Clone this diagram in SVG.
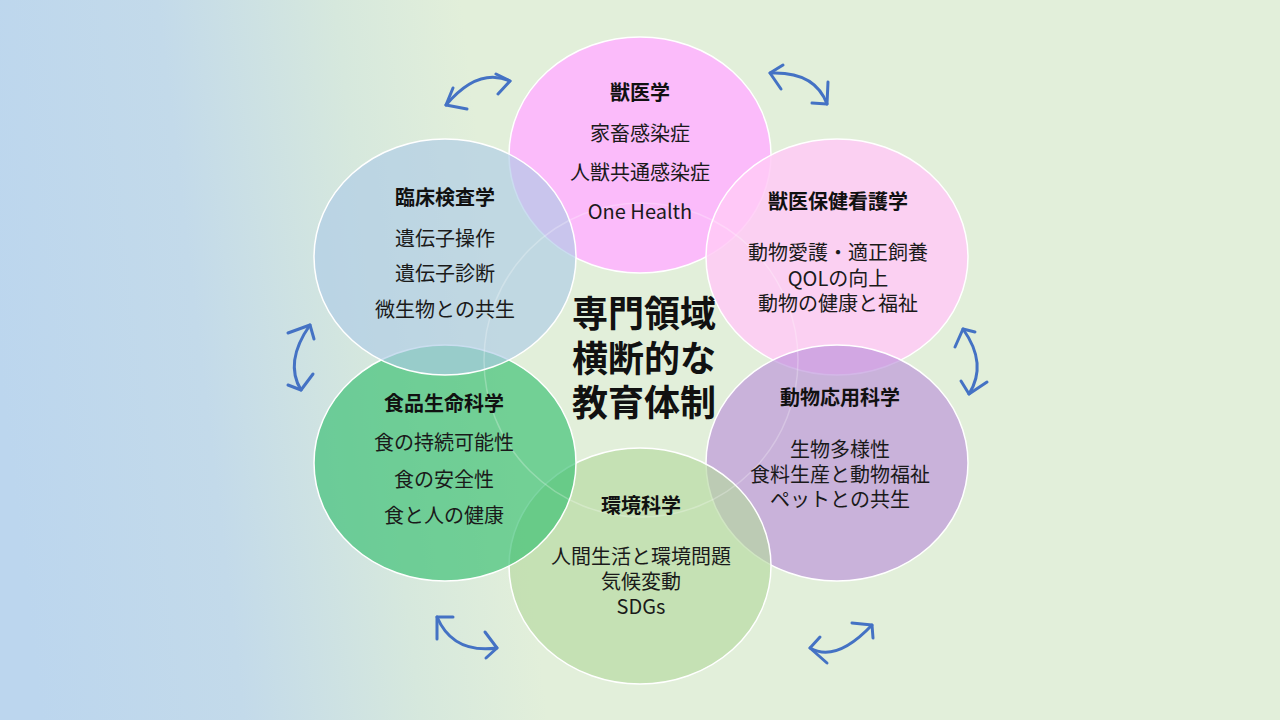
<svg xmlns="http://www.w3.org/2000/svg" width="1280" height="720" viewBox="0 0 1280 720">
<defs>
<linearGradient id="bg" gradientUnits="userSpaceOnUse" x1="0" y1="380" x2="500" y2="320">
<stop offset="0" stop-color="#BCD6EE"/>
<stop offset="0.4" stop-color="#C3DAEA"/>
<stop offset="0.75" stop-color="#D6E8DD"/>
<stop offset="1" stop-color="#E2EFDA"/>
</linearGradient>
<style>
.c{stroke:#FFFFFF;stroke-width:1.5;fill-opacity:0.65}
.p{fill-opacity:0.85}
.t{font-family:"Noto Sans CJK JP","Noto Sans",sans-serif;font-size:20px;font-weight:700;fill:#111;text-anchor:middle}
.b{font-family:"Noto Sans CJK JP","Noto Sans",sans-serif;font-size:20px;fill:#1a1a1a;text-anchor:middle}
.m{font-family:"Noto Sans CJK JP","Noto Sans",sans-serif;font-size:36px;font-weight:700;fill:#111;text-anchor:middle}
.a{fill:none;stroke:#4472C4;stroke-width:3;stroke-linecap:round;stroke-linejoin:round}
</style>
</defs>
<rect x="0" y="0" width="1280" height="720" fill="url(#bg)"/>

<g id="node-juui">
<ellipse class="c p" cx="640" cy="155" rx="131" ry="118" fill="#FFB2FF"/>
</g>
<g id="node-hoken">
<ellipse class="c p" cx="837" cy="257" rx="131" ry="118" fill="#FFCAF6"/>
</g>
<g id="node-ouyou">
<ellipse class="c" cx="837" cy="463" rx="131" ry="118" fill="#BB91DA"/>
</g>
<g id="node-kankyo">
<ellipse class="c" cx="640" cy="566" rx="131" ry="118" fill="#B6D8A0"/>
</g>
<g id="node-shokuhin">
<ellipse class="c" cx="445" cy="463" rx="131" ry="118" fill="#36BF70"/>
</g>
<g id="node-rinsho">
<ellipse class="c" cx="445" cy="257" rx="131" ry="118" fill="#AECBE6"/>
</g>
<g id="node-center">
<circle cx="641" cy="360" r="157" fill="none" stroke="#FFFFFF" stroke-opacity="0.25" stroke-width="1.5"/>
<text class="m" x="644" y="327">専門領域</text>
<text class="m" x="644" y="372">横断的な</text>
<text class="m" x="644" y="416">教育体制</text>
</g>

<g id="labels">
<text class="t" x="640" y="100">獣医学</text>
<text class="b" x="640" y="141">家畜感染症</text>
<text class="b" x="640" y="180">人獣共通感染症</text>
<text class="b" x="640" y="219">One Health</text>

<text class="t" x="445" y="205">臨床検査学</text>
<text class="b" x="445" y="246">遺伝子操作</text>
<text class="b" x="445" y="281">遺伝子診断</text>
<text class="b" x="445" y="317">微生物との共生</text>

<text class="t" x="838" y="209">獣医保健看護学</text>
<text class="b" x="838" y="260">動物愛護・適正飼養</text>
<text class="b" x="838" y="286">QOLの向上</text>
<text class="b" x="838" y="311">動物の健康と福祉</text>

<text class="t" x="840" y="405">動物応用科学</text>
<text class="b" x="840" y="457">生物多様性</text>
<text class="b" x="840" y="482">食料生産と動物福祉</text>
<text class="b" x="840" y="507">ペットとの共生</text>

<text class="t" x="444" y="411">食品生命科学</text>
<text class="b" x="444" y="450">食の持続可能性</text>
<text class="b" x="444" y="487">食の安全性</text>
<text class="b" x="444" y="523">食と人の健康</text>

<text class="t" x="641" y="513">環境科学</text>
<text class="b" x="641" y="564">人間生活と環境問題</text>
<text class="b" x="641" y="589">気候変動</text>
<text class="b" x="641" y="614">SDGs</text>
</g>

<g id="connectors">
<path class="a" d="M446,105 Q478,67 510,81"/>
<polyline class="a" points="467,109 446,105 453,88"/>
<polyline class="a" points="496,74 510,81 498,94"/>

<path class="a" d="M770,73 Q815,71 827,104"/>
<polyline class="a" points="783,65 770,73 781,89"/>
<polyline class="a" points="828,82 827,104 812,103"/>

<path class="a" d="M310,325 Q284,362 301,390"/>
<polyline class="a" points="288,333 310,325 314,339"/>
<polyline class="a" points="288,385 301,390 313,374"/>

<path class="a" d="M963,329 Q988,364 969,394"/>
<polyline class="a" points="955,347 963,329 975,332"/>
<polyline class="a" points="961,381 969,394 987,382"/>

<path class="a" d="M437,617 Q453,654 497,648"/>
<polyline class="a" points="453,617 437,617 437,639"/>
<polyline class="a" points="485,632 497,648 486,658"/>

<path class="a" d="M810,648 Q836,663 872,625"/>
<polyline class="a" points="827,663 810,648 820,637"/>
<polyline class="a" points="852,623 872,625 873,638"/>
</g>
</svg>
